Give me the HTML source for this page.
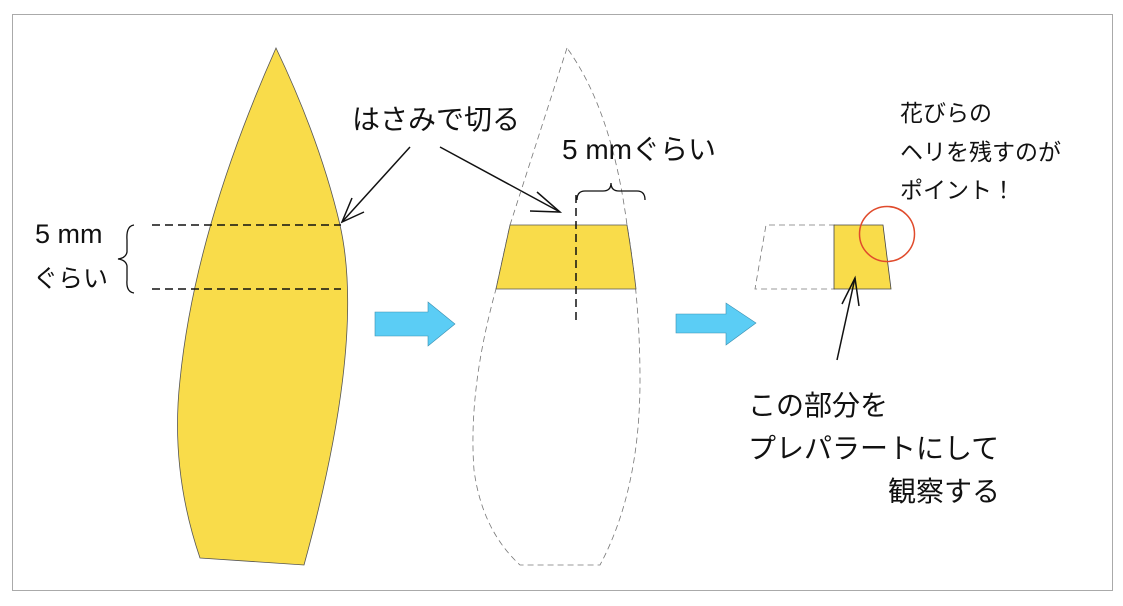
<!DOCTYPE html>
<html><head><meta charset="utf-8"><style>
body{margin:0;background:#fff;width:1123px;height:601px;overflow:hidden}
svg text{font-family:"Liberation Sans","Noto Sans CJK JP",sans-serif;fill:#111}
</style></head><body>
<svg width="1123" height="601" viewBox="0 0 1123 601" xmlns="http://www.w3.org/2000/svg">
<rect x="12.5" y="14.5" width="1100" height="576" fill="#fff" stroke="#aaa" stroke-width="1"/>
<path d="M276,48 Q320,140 340,225 Q366,340 304,565 L200,558 Q170,470 180,380 Q195,230 276,48 Z" fill="#f9dc4a" stroke="#555" stroke-width="0.8"/>
<line x1="152" y1="225" x2="341" y2="225" stroke="#111" stroke-width="1.5" stroke-dasharray="8,5"/>
<line x1="152" y1="289" x2="341" y2="289" stroke="#111" stroke-width="1.5" stroke-dasharray="8,5"/>
<path d="M134,225 Q126,226 127,240 L127,252 Q126,258 118,259 Q126,260 127,266 L127,280 Q126,292 134,293" fill="none" stroke="#111" stroke-width="1.3"/>
<text x="35" y="243" font-size="27">5 mm</text>
<text x="33" y="287" font-size="25">ぐらい</text>
<text x="352" y="129" font-size="28">はさみで切る</text>
<line x1="410" y1="147" x2="342" y2="222" stroke="#111" stroke-width="1.5"/>
<path d="M352,198 L342,222 L364,212" fill="none" stroke="#111" stroke-width="1.5"/>
<line x1="440" y1="147" x2="560" y2="212" stroke="#111" stroke-width="1.5"/>
<path d="M537,192 L560,212 L530,211" fill="none" stroke="#111" stroke-width="1.5"/>
<path d="M567,48 L510,225 L496,289 Q468,390 474,470 Q482,530 520,565 L600,565 Q640,490 640,380 Q640,300 627,225 Q612,110 567,48 Z" fill="none" stroke="#777" stroke-width="0.8" stroke-dasharray="6,4"/>
<path d="M510,225 L627,225 Q632,255 636,289 L496,289 Z" fill="#f9dc4a" stroke="#555" stroke-width="0.8"/>
<line x1="576" y1="195" x2="576" y2="322" stroke="#111" stroke-width="1.5" stroke-dasharray="8,5"/>
<path d="M577,200 Q577,191 585,191 L603,191 Q611,191 611,183 Q611,191 619,191 L637,191 Q645,191 645,200" fill="none" stroke="#111" stroke-width="1.3"/>
<text x="562" y="159" font-size="28">5 mmぐらい</text>
<path d="M375,312 L428,312 L428,302 L455,324 L428,346 L428,336 L375,336 Z" fill="#5bcdf5" stroke="#3a8fb0" stroke-width="0.6"/>
<path d="M676,314 L726,314 L726,303 L756,323 L726,345 L726,333 L676,333 Z" fill="#5bcdf5" stroke="#3a8fb0" stroke-width="0.6"/>
<path d="M835,225 L766,225 L755,289 L835,289" fill="none" stroke="#777" stroke-width="0.8" stroke-dasharray="6,4"/>
<path d="M834,225 L883,225 Q887,257 891,289 L834,289 Z" fill="#f9dc4a" stroke="#444" stroke-width="0.8"/>
<circle cx="887" cy="234" r="27.5" fill="none" stroke="#e04b2c" stroke-width="1.5"/>
<line x1="837" y1="360" x2="855" y2="278" stroke="#111" stroke-width="1.5"/>
<path d="M842,304 L855,278 L859,306" fill="none" stroke="#111" stroke-width="1.5"/>
<text x="900" y="121" font-size="23">花びらの</text>
<text x="900" y="160" font-size="23">ヘリを残すのが</text>
<text x="900" y="198" font-size="23">ポイント！</text>
<text x="748" y="415" font-size="28">この部分を</text>
<text x="748" y="458" font-size="28">プレパラートにして</text>
<text x="888" y="501" font-size="28">観察する</text>
</svg>
</body></html>
